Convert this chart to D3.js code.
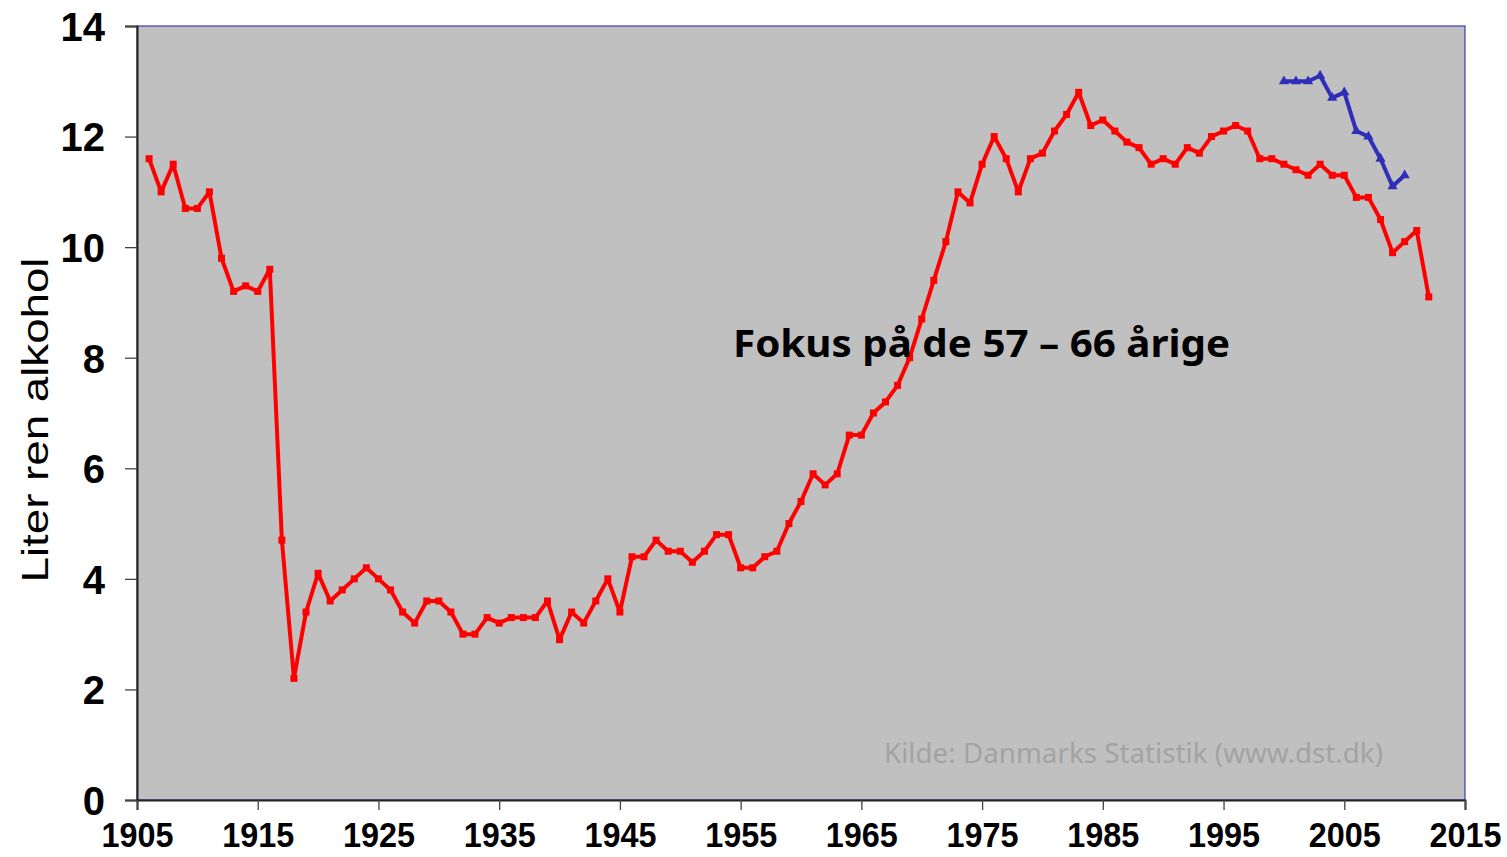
<!DOCTYPE html>
<html>
<head>
<meta charset="utf-8">
<script src="https://cdn.jsdelivr.net/npm/d3@7/dist/d3.min.js"></script>
<style>
  body { margin: 0; background: #fff; }
  svg { display: block; }
</style>
</head>
<body>
<div id="chart"></div>
<script>
// total consumption, 1906-2012
const totalYears = d3.range(1906, 2013);
const totalValues = [
  11.6, 11.0, 11.5, 10.7, 10.7, 11.0, 9.8, 9.2, 9.3, 9.2,   // 1906-1915
  9.6, 4.7, 2.2, 3.4, 4.1, 3.6, 3.8, 4.0, 4.2, 4.0,         // 1916-1925
  3.8, 3.4, 3.2, 3.6, 3.6, 3.4, 3.0, 3.0, 3.3, 3.2,         // 1926-1935
  3.3, 3.3, 3.3, 3.6, 2.9, 3.4, 3.2, 3.6, 4.0, 3.4,         // 1936-1945
  4.4, 4.4, 4.7, 4.5, 4.5, 4.3, 4.5, 4.8, 4.8, 4.2,         // 1946-1955
  4.2, 4.4, 4.5, 5.0, 5.4, 5.9, 5.7, 5.9, 6.6, 6.6,         // 1956-1965
  7.0, 7.2, 7.5, 8.0, 8.7, 9.4, 10.1, 11.0, 10.8, 11.5,     // 1966-1975
  12.0, 11.6, 11.0, 11.6, 11.7, 12.1, 12.4, 12.8, 12.2, 12.3, // 1976-1985
  12.1, 11.9, 11.8, 11.5, 11.6, 11.5, 11.8, 11.7, 12.0, 12.1, // 1986-1995
  12.2, 12.1, 11.6, 11.6, 11.5, 11.4, 11.3, 11.5, 11.3, 11.3, // 1996-2005
  10.9, 10.9, 10.5, 9.9, 10.1, 10.3, 9.1                    // 2006-2012
];

// 57-66 year olds, 2000-2010
const ageYears = [2000, 2001, 2002, 2003, 2004, 2005, 2006, 2007, 2008, 2009, 2010];
const ageValues = [13.0, 13.0, 13.0, 13.1, 12.7, 12.8, 12.1, 12.0, 11.6, 11.1, 11.3];

const xTicks = [1905, 1915, 1925, 1935, 1945, 1955, 1965, 1975, 1985, 1995, 2005, 2015];
const yTicks = [0, 2, 4, 6, 8, 10, 12, 14];

const width = 1507;
const height = 857;
const margin = { top: 26, right: 42, bottom: 57, left: 137 };
const w = width - margin.left - margin.right;
const h = height - margin.top - margin.bottom;

const svg = d3.select("#chart")
  .append("svg")
  .attr("width", width)
  .attr("height", height);

const g = svg.append("g")
  .attr("transform", `translate(${margin.left},${margin.top})`);

const x = d3.scaleLinear().domain([1905, 2015]).range([0, w]);
const y = d3.scaleLinear().domain([0, 14]).range([h, 0]);

// plot background + thin blue frame
g.append("rect")
  .attr("width", w)
  .attr("height", h)
  .attr("fill", "#c0c0c0")
  .attr("stroke", "#1a1ab0")
  .attr("stroke-width", 1);

// y axis
g.append("g")
  .call(d3.axisLeft(y).tickValues(yTicks).tickSize(12).tickPadding(20))
  .call(a => a.select(".domain").attr("stroke", "#222").attr("stroke-width", 2))
  .call(a => a.selectAll(".tick line").attr("stroke", "#444").attr("stroke-width", 1.3))
  .call(a => a.selectAll(".tick text")
    .attr("font-family", "'Liberation Sans', Arial, sans-serif")
    .attr("font-weight", "bold")
    .attr("font-size", 40)
    .attr("fill", "#000")
    .attr("dy", "0.36em"));

// x axis
g.append("g")
  .attr("transform", `translate(0,${h})`)
  .call(d3.axisBottom(x).tickValues(xTicks).tickFormat(d3.format("d")).tickSize(10).tickPadding(12))
  .call(a => a.select(".domain").attr("stroke", "#222").attr("stroke-width", 2))
  .call(a => a.selectAll(".tick line").attr("stroke", "#444").attr("stroke-width", 1.3))
  .call(a => a.selectAll(".tick text")
    .attr("font-family", "'Liberation Sans', Arial, sans-serif")
    .attr("font-weight", "bold")
    .attr("font-size", 35)
    .attr("fill", "#000")
    .attr("dy", "0.72em")
    .attr("textLength", 72)
    .attr("lengthAdjust", "spacingAndGlyphs"));

// total series
const line = d3.line()
  .x((d, i) => x(totalYears[i]))
  .y(d => y(d));

g.append("path")
  .datum(totalValues)
  .attr("fill", "none")
  .attr("stroke", "#ff0000")
  .attr("stroke-width", 4)
  .attr("stroke-linejoin", "round")
  .attr("d", line);

g.selectAll(".sq")
  .data(totalValues)
  .join("rect")
  .attr("class", "sq")
  .attr("x", (d, i) => x(totalYears[i]) - 3.5)
  .attr("y", d => y(d) - 3.5)
  .attr("width", 7)
  .attr("height", 7)
  .attr("fill", "#ff0000");

// 57-66 series
const line2 = d3.line()
  .x((d, i) => x(ageYears[i]))
  .y(d => y(d));

g.append("path")
  .datum(ageValues)
  .attr("fill", "none")
  .attr("stroke", "#2e2eb8")
  .attr("stroke-width", 4)
  .attr("stroke-linejoin", "round")
  .attr("d", line2);

const tri = d3.symbol().type(d3.symbolTriangle).size(45);
g.selectAll(".tri")
  .data(ageValues)
  .join("path")
  .attr("class", "tri")
  .attr("transform", (d, i) => `translate(${x(ageYears[i])},${y(d)})`)
  .attr("d", tri)
  .attr("fill", "#2e2eb8");

// annotations
svg.append("text")
  .attr("x", 733)
  .attr("y", 357)
  .attr("font-family", "'Noto Sans', 'Open Sans', sans-serif")
  .attr("font-weight", "bold")
  .attr("font-size", 38)
  .attr("textLength", 497)
  .attr("lengthAdjust", "spacingAndGlyphs")
  .attr("fill", "#000")
  .text("Fokus på de 57 – 66 årige");

svg.append("text")
  .attr("x", 884)
  .attr("y", 763)
  .attr("font-family", "'Noto Sans', 'Open Sans', sans-serif")
  .attr("font-size", 27)
  .attr("textLength", 499)
  .attr("lengthAdjust", "spacingAndGlyphs")
  .attr("fill", "#a3a3a3")
  .text("Kilde: Danmarks Statistik (www.dst.dk)");

// y axis title
svg.append("text")
  .attr("transform", "translate(48,420) rotate(-90)")
  .attr("text-anchor", "middle")
  .attr("font-family", "'Liberation Sans', Arial, sans-serif")
  .attr("font-size", 37)
  .attr("textLength", 325)
  .attr("lengthAdjust", "spacingAndGlyphs")
  .attr("fill", "#000")
  .text("Liter ren alkohol");
</script>
</body>
</html>
